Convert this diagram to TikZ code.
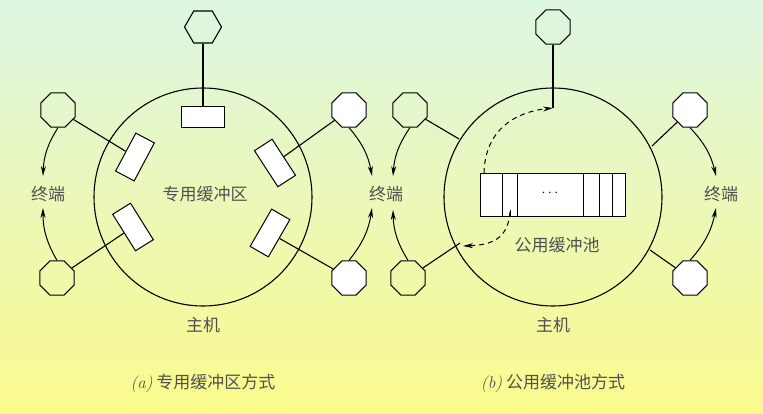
\documentclass[tikz,border=0pt]{standalone}
\usepackage{fontspec}
\newfontfamily\cjk{Noto Sans CJK SC}
\usetikzlibrary{shapes.geometric,arrows.meta}
\definecolor{bgtop}{HTML}{DDF6E2}
\definecolor{bgbot}{HTML}{FAFA8C}
\definecolor{txt}{HTML}{505050}
\tikzset{
  term/.style={draw,line width=1.1pt,regular polygon,regular polygon sides=8,minimum size=37pt,inner sep=0pt},
  wterm/.style={term,fill=white},
  buf/.style={draw,line width=1pt,fill=white,minimum width=43pt,minimum height=21pt,inner sep=0pt},
  lbl/.style={font=\cjk\fontsize{17pt}{17pt}\selectfont,text=txt},
  conn/.style={line width=1.1pt},
  arr/.style={line width=1pt,-{Stealth[length=10pt,width=5pt]}},
  darr/.style={arr,dashed,dash pattern=on 5pt off 4pt},
  host/.style={draw,line width=1.1pt,circle,minimum size=218pt,inner sep=0pt}
}
\begin{document}
\begin{tikzpicture}[x=1pt,y=-1pt]
\shade[top color=bgtop,bottom color=bgbot] (0,0) rectangle (763,414);
\useasboundingbox (0,0) rectangle (763,414);
% ---------- (a)
\node[host] (hA) at (203,197) {};
\node[term,regular polygon sides=6] (tA0) at (203,27) {};
\node[term] (tA1) at (58,110) {};
\node[term] (tA2) at (57,278) {};
\node[wterm] (tA3) at (349,110) {};
\node[wterm] (tA4) at (349,278) {};
\node[buf] (bA0) at (203,117) {};
\node[buf,rotate=62] (bA1) at (135,157) {};
\node[buf,rotate=-58] (bA2) at (133,227) {};
\node[buf,rotate=-57] (bA3) at (275,163) {};
\node[buf,rotate=60] (bA4) at (270,233) {};
\draw[conn] (tA0) -- (bA0);
\draw[conn] (tA1) -- (bA1);
\draw[conn] (tA2) -- (bA2);
\draw[conn] (tA3) -- (bA3);
\draw[conn] (tA4) -- (bA4);
\node[lbl] (kA1) at (48,194) {终端};
\node[lbl] (kA2) at (386,194) {终端};
\node[lbl] (cA) at (205,194) {专用缓冲区};
\node[lbl] (mA) at (203,325) {主机};
\node[lbl] (capA) at (203,383) {{\normalfont\itshape(a)} 专用缓冲区方式};
\draw[arr] (tA1.south) to[bend right=15] (43,176);
\draw[arr] (tA2.north) to[bend left=15] (43,208);
\draw[arr] (tA3.south) to[bend left=15] (372,176);
\draw[arr] (tA4.north) to[bend right=15] (372,208);
% ---------- (b)
\node[host] (hB) at (553,197) {};
\node[term] (tB0) at (553,27) {};
\node[term] (tB1) at (410,110) {};
\node[term] (tB2) at (408,278) {};
\node[wterm] (tB3) at (690,110) {};
\node[wterm] (tB4) at (690,278) {};
\node[draw,line width=1pt,fill=white,minimum width=145pt,minimum height=43pt,inner sep=0pt] (pool) at (552.5,195.5) {};
\foreach \xx in {502,517,583,599,612} \draw[line width=1pt] (\xx,174) -- (\xx,217);
\node (dots) at (550,193) {\Large$\cdots$};
\coordinate (in) at (553,108);
\draw[conn] (tB0) -- (in);
\draw[conn] (tB1) -- (459,139);
\draw[conn] (tB2) -- (460,243);
\draw[conn] (tB3) -- (652,146);
\draw[conn] (tB4) -- (650,250);
\draw[darr] (484,173) .. controls (485,130) and (515,112) .. (in);
\draw[line width=1pt] (510,217) -- (510,210);
\draw[darr] (510,212) .. controls (508,240) and (490,245) .. (463,246);
\node[lbl] (kB2) at (721,194) {终端};
\node[lbl] (cB) at (557,245) {公用缓冲池};
\node[lbl] (mB) at (553,325) {主机};
\node[lbl] (capB) at (553,383) {{\normalfont\itshape(b)} 公用缓冲池方式};
\draw[arr] (tB1.south) to[bend right=15] (393,176);
\draw[arr] (tB2.north) to[bend left=15] (393,210);
\draw[arr] (tB3.south) to[bend left=15] (716,176);
\draw[arr] (tB4.north) to[bend right=15] (716,208);
\end{tikzpicture}
\end{document}
